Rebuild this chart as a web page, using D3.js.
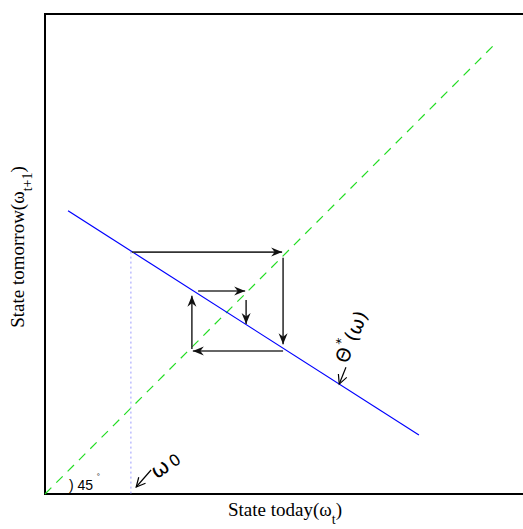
<!DOCTYPE html>
<html>
<head>
<meta charset="utf-8">
<script src="https://cdn.jsdelivr.net/npm/d3@7"></script>
<style>
  body { margin: 0; background: #fff; }
  text { fill: #000; }
</style>
</head>
<body>
<div id="chart"></div>
<script>
// 45 degree line and the policy function, in state units
const diagX = [0, 0.933];
const policyX = [0.048, 0.779];
const policyY = [0.590, 0.123];
const omega0 = 0.179;
const omega0Top = 0.505;

// cobweb arrows: [x1, y1, x2, y2]
const cobweb = [
  [0.181, 0.504, 0.494, 0.504],
  [0.496, 0.492, 0.496, 0.312],
  [0.496, 0.298, 0.308, 0.298],
  [0.306, 0.302, 0.306, 0.413],
  [0.319, 0.423, 0.417, 0.423],
  [0.419, 0.404, 0.419, 0.354]
];

const w = 523, h = 529;
const x = d3.scaleLinear().domain([0, 1]).range([45, 525]);
const y = d3.scaleLinear().domain([0, 1]).range([494, 14]);

const svg = d3.select("#chart").append("svg")
  .attr("width", w).attr("height", h);

const defs = svg.append("defs");
defs.append("marker")
  .attr("id", "stealth")
  .attr("viewBox", "-12 -6 14 12")
  .attr("refX", 0).attr("refY", 0)
  .attr("markerWidth", 14).attr("markerHeight", 12)
  .attr("markerUnits", "userSpaceOnUse")
  .attr("orient", "auto")
  .append("path")
  .attr("d", "M0,0 L-11,-4.5 L-7.5,0 L-11,4.5 Z")
  .attr("fill", "#111");
defs.append("marker")
  .attr("id", "vee")
  .attr("viewBox", "-12 -6 14 12")
  .attr("refX", 0).attr("refY", 0)
  .attr("markerWidth", 14).attr("markerHeight", 12)
  .attr("markerUnits", "userSpaceOnUse")
  .attr("orient", "auto")
  .append("path")
  .attr("d", "M-9,-4.5 L0,0 L-9,4.5")
  .attr("fill", "none")
  .attr("stroke", "#000")
  .attr("stroke-width", 1.2);

// frame (right edge falls just outside the window)
svg.append("path")
  .attr("d", `M${x(1)},${y(1)} L${x(0)},${y(1)} L${x(0)},${y(0)} L${x(1)},${y(0)}`)
  .attr("fill", "none")
  .attr("stroke", "#000")
  .attr("stroke-width", 2);

// dotted omega_0 line
svg.append("line")
  .attr("x1", x(omega0)).attr("x2", x(omega0))
  .attr("y1", y(omega0Top)).attr("y2", y(0))
  .attr("stroke", "#9a9aff")
  .attr("stroke-width", 1)
  .attr("stroke-dasharray", "2,3");

// 45 degree line
svg.append("line")
  .attr("x1", x(diagX[0])).attr("y1", y(diagX[0]))
  .attr("x2", x(diagX[1])).attr("y2", y(diagX[1]))
  .attr("stroke", "#22dd22")
  .attr("stroke-width", 1.2)
  .attr("stroke-dasharray", "9,7");

// policy function
svg.append("line")
  .attr("x1", x(policyX[0])).attr("y1", y(policyY[0]))
  .attr("x2", x(policyX[1])).attr("y2", y(policyY[1]))
  .attr("stroke", "#0000ff")
  .attr("stroke-width", 1.2);

// cobweb
svg.selectAll(".cob")
  .data(cobweb)
  .enter().append("line")
  .attr("class", "cob")
  .attr("x1", d => x(d[0])).attr("y1", d => y(d[1]))
  .attr("x2", d => x(d[2])).attr("y2", d => y(d[3]))
  .attr("stroke", "#333")
  .attr("stroke-width", 1.6)
  .attr("marker-end", "url(#stealth)");

// 45 degree label
svg.append("text")
  .attr("x", x(0.05)).attr("y", y(0.008))
  .attr("font-family", "Liberation Sans, Arial, sans-serif")
  .attr("font-size", 14)
  .text(") 45");
svg.append("text")
  .attr("x", x(0.108)).attr("y", y(0.032))
  .attr("font-family", "Liberation Sans, Arial, sans-serif")
  .attr("font-size", 8)
  .text("°");

// omega_0 label and arrow
svg.append("line")
  .attr("x1", x(0.221)).attr("y1", y(0.05))
  .attr("x2", x(0.19)).attr("y2", y(0.0146))
  .attr("stroke", "#000").attr("stroke-width", 1.2)
  .attr("marker-end", "url(#vee)");
svg.append("text")
  .attr("transform", `translate(${x(0.233)},${y(0.03)}) rotate(-35)`)
  .attr("font-family", "DejaVu Sans, sans-serif")
  .attr("font-size", 21)
  .text("ω")
  .append("tspan")
  .attr("dx", 3)
  .attr("font-size", 16)
  .text("0");

// Theta label and arrow
svg.append("line")
  .attr("x1", x(0.627)).attr("y1", y(0.264))
  .attr("x2", x(0.613)).attr("y2", y(0.229))
  .attr("stroke", "#000").attr("stroke-width", 1.2)
  .attr("marker-end", "url(#vee)");
const th = svg.append("text")
  .attr("transform", `translate(${x(0.629)},${y(0.27)}) rotate(-67)`)
  .attr("font-family", "DejaVu Sans, sans-serif")
  .attr("font-size", 19);
th.append("tspan").text("Θ");
th.append("tspan").attr("dy", -10).attr("font-size", 13).text("*");
th.append("tspan").attr("dy", 10).attr("dx", 2).text("(ω)");

// axis titles
const xt = svg.append("text")
  .attr("x", 285).attr("y", 516)
  .attr("text-anchor", "middle")
  .attr("font-family", "Liberation Serif, Times New Roman, serif")
  .attr("font-size", 19);
xt.append("tspan").text("State today(ω");
xt.append("tspan").attr("dy", 8).attr("font-size", 14).text("t");
xt.append("tspan").attr("dy", -8).text(")");

const yt = svg.append("text")
  .attr("transform", "translate(24,247) rotate(-90)")
  .attr("text-anchor", "middle")
  .attr("font-family", "Liberation Serif, Times New Roman, serif")
  .attr("font-size", 19);
yt.append("tspan").text("State tomorrow(ω");
yt.append("tspan").attr("dy", 8).attr("font-size", 14).text("t+1");
yt.append("tspan").attr("dy", -8).text(")");
</script>
</body>
</html>
